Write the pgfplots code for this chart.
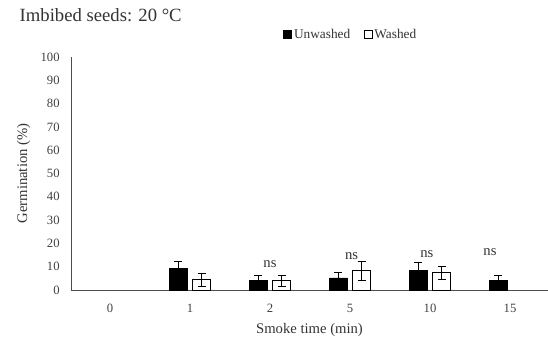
\documentclass[border=0pt]{standalone}
\usepackage{pgfplots}
\pgfplotsset{compat=1.18}
\usepackage{fontspec}
\setmainfont{Liberation Serif}
\begin{document}
\begin{tikzpicture}[x=1pt,y=1pt]
\useasboundingbox (-53.25,-38.25) rectangle (357.75,217.5);
\begin{axis}[
  at={(0,0)}, anchor=south west,
  scale only axis, width=357.75pt, height=174.75pt,
  xmin=-0.4875, xmax=5.475, ymin=0, ymax=100,
  axis x line*=bottom, axis y line*=left,
  axis line style={black!70, line width=0.6pt},
  xtick={0,1,2,3,4,5}, xticklabels={0,1,2,5,10,15},
  ytick={0,10,...,100},
  major tick length=0pt,
  tick label style={font=\fontsize{9.5}{10}\selectfont, text=black!75},
  /pgf/number format/assume math mode=true,
  xticklabel style={yshift=-7pt},
  yticklabel style={xshift=-5pt},
  xlabel={Smoke time (min)},
  ylabel={Germination (\%)},
  label style={font=\fontsize{11}{12}\selectfont, text=black!80},
  xlabel style={yshift=-1.5pt},
  ylabel style={yshift=1pt},
  ybar, bar width=13.5pt,
  clip=false,
]
\addplot[fill=black, draw=black, bar shift=-8.8pt,
  error bars/.cd, y dir=both, y explicit, error bar style={black, line width=0.5pt}, error mark options={rotate=90, mark size=3pt, black}]
  coordinates {(1,9.3) +- (0,3.1) (2,4) +- (0,2.4) (3,5.2) +- (0,2.4) (4,8.3) +- (0,3.4) (5,4) +- (0,2.4)};
\addplot[fill=white, draw=black, bar shift=8.8pt,
  error bars/.cd, y dir=both, y explicit, error bar style={black, line width=0.5pt}, error mark options={rotate=90, mark size=3pt, black}]
  coordinates {(1,4.4) +- (0,2.9) (2,4) +- (0,2.4) (3,8.3) +- (0,4) (4,7.4) +- (0,2.6)};
\node[font=\fontsize{11}{12}\selectfont, text=black!80] at (axis cs:2,11.2) {ns};
\node[font=\fontsize{11}{12}\selectfont, text=black!80] at (axis cs:3.02,14.6) {ns};
\node[font=\fontsize{11}{12}\selectfont, text=black!80] at (axis cs:3.96,15.3) {ns};
\node[font=\fontsize{11}{12}\selectfont, text=black!80] at (axis cs:4.75,16.4) {ns};
\end{axis}
\node[font=\fontsize{14}{15}\selectfont, text=black!80, anchor=west] at (-42,206.25) {Imbibed seeds: 20 \textdegree C};
\node[anchor=west, font=\fontsize{10}{11}\selectfont, text=black!80, inner sep=0pt] at (159,192) {%
  \tikz\draw[black, fill=black] (0,0) rectangle (6pt,6pt);\,Unwashed\quad
  \tikz\draw[black, fill=white] (0,0) rectangle (6pt,6pt);\,Washed};
\end{tikzpicture}
\end{document}
